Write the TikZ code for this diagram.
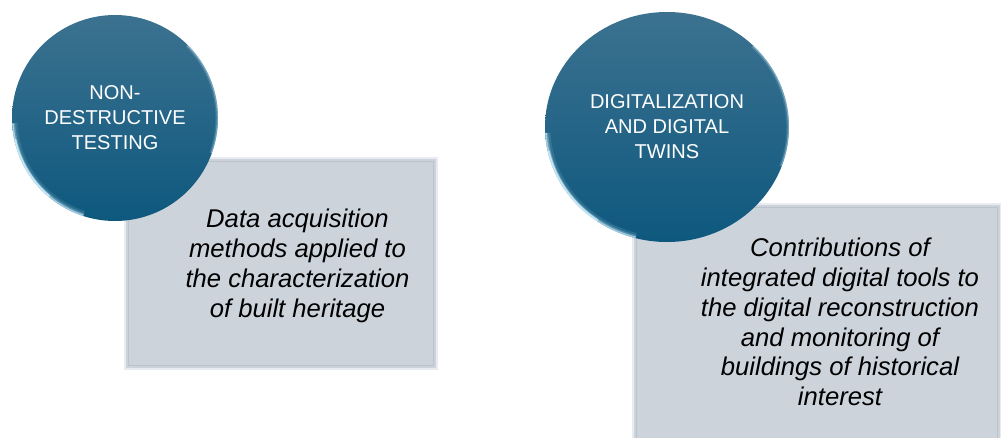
\documentclass[tikz,border=0pt]{standalone}
\usepackage{fontspec}
\setmainfont{Liberation Sans}
\usetikzlibrary{shapes.geometric}
\definecolor{tealtop}{RGB}{60,114,144}
\definecolor{tealbot}{RGB}{14,88,126}
\definecolor{cardfill}{RGB}{205,211,219}
\definecolor{cardedge}{RGB}{232,235,240}
\definecolor{cardline}{RGB}{188,195,204}
\definecolor{gloss}{RGB}{210,242,255}
\tikzset{
  card/.style={draw=cardedge, line width=1.3pt, fill=cardfill, inner sep=0pt},
  bubble/.style={top color=tealtop, bottom color=tealbot, draw=none, inner sep=0pt,
    text=white, align=center, font=\fontsize{11.4}{14.2}\selectfont},
  blurb/.style={align=center, font=\fontsize{14.6}{17}\selectfont\itshape}
}
\begin{document}
\begin{tikzpicture}
\useasboundingbox (0,0) rectangle (20.02,-8.74);
\clip (0,0) rectangle (20.02,-8.74);
% grey cards
\node[card, minimum width=6.24cm, minimum height=4.22cm] (ndtcard) at (5.62,-5.27) {};
\draw[cardline, line width=.5pt] ([shift={(.1,-.1)}]ndtcard.north west) rectangle ([shift={(-.1,.1)}]ndtcard.south east);
\node[card, minimum width=7.36cm, minimum height=5.12cm] (dtcard) at (16.34,-6.64) {};
\draw[cardline, line width=.5pt] ([shift={(.1,-.1)}]dtcard.north west) rectangle ([shift={(-.1,.1)}]dtcard.south east);
\node[blurb] (ndttext) at (5.95,-5.32) {Data acquisition\\methods applied to\\the characterization\\of built heritage};
\node[blurb] (dttext) at (16.80,-6.44) {Contributions of\\integrated digital tools to\\the digital reconstruction\\and monitoring of\\buildings of historical\\interest};
% teal bubbles
\node[bubble, circle, minimum size=4.12cm] (ndt) at (2.30,-2.36) {NON-\\DESTRUCTIVE\\TESTING};
\node[bubble, ellipse, minimum width=4.88cm, minimum height=4.60cm] (dt) at (13.34,-2.54) {DIGITALIZATION\\AND DIGITAL\\TWINS};
% glossy rims
\begin{scope}
\clip (ndt.center) circle (2.06);
\foreach \w/\o in {6pt/.12,3.5pt/.25,1.8pt/.6}
  \draw[gloss, line width=\w, opacity=\o] ([shift={(183:2.06)}]ndt.center) arc (183:252:2.06);
\draw[gloss, line width=2.4pt, opacity=.7] ([shift={(192:2.06)}]ndt.center) arc (192:230:2.06);
\foreach \w/\o in {3pt/.12,1.4pt/.35}
  \draw[gloss, line width=\w, opacity=\o] ([shift={(-20:2.06)}]ndt.center) arc (-20:45:2.06);
\end{scope}
\begin{scope}
\clip (dt.center) ellipse [x radius=2.44, y radius=2.30];
\foreach \w/\o in {6pt/.12,3.5pt/.25,1.8pt/.6}
  \draw[gloss, line width=\w, opacity=\o] ([shift={(183:2.44 and 2.30)}]dt.center) arc [start angle=183, end angle=255, x radius=2.44, y radius=2.30];
\draw[gloss, line width=2.4pt, opacity=.7] ([shift={(192:2.44 and 2.30)}]dt.center) arc [start angle=192, end angle=235, x radius=2.44, y radius=2.30];
\foreach \w/\o in {3pt/.12,1.4pt/.35}
  \draw[gloss, line width=\w, opacity=\o] ([shift={(-20:2.44 and 2.30)}]dt.center) arc [start angle=-20, end angle=45, x radius=2.44, y radius=2.30];
\end{scope}
\end{tikzpicture}
\end{document}
